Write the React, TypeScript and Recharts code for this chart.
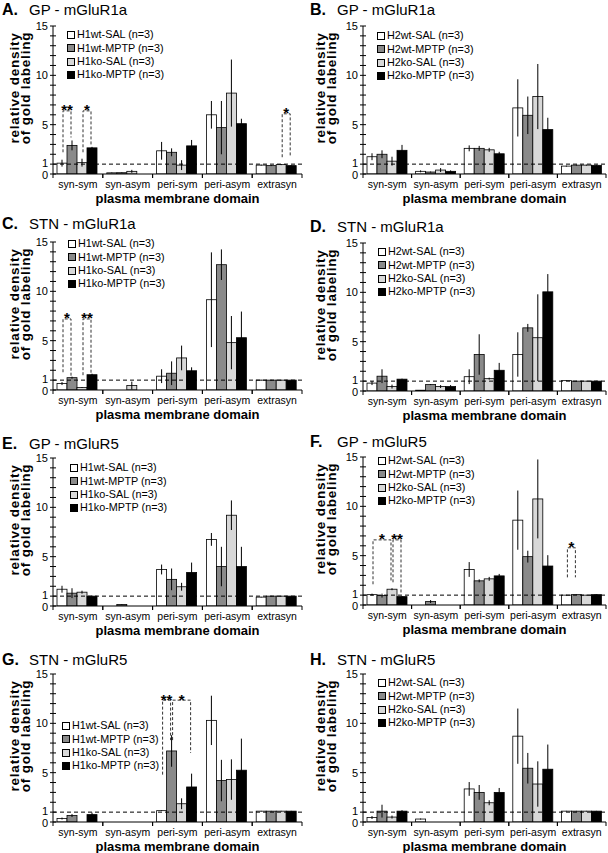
import React from 'react';
import { Bar, BarChart, ErrorBar, Legend, ReferenceLine, XAxis, YAxis } from 'recharts';

const CATEGORIES = ['syn-sym', 'syn-asym', 'peri-sym', 'peri-asym', 'extrasyn'];
const H1_SERIES = ['H1wt-SAL (n=3)', 'H1wt-MPTP (n=3)', 'H1ko-SAL (n=3)', 'H1ko-MPTP (n=3)'];
const H2_SERIES = ['H2wt-SAL (n=3)', 'H2wt-MPTP (n=3)', 'H2ko-SAL (n=3)', 'H2ko-MPTP (n=3)'];
const Y_TICKS = [0, 1, 2, 3, 4, 5, 6, 7, 8, 9, 10, 11, 12, 13, 14, 15];
const Y_TICK_LABELS = [0, 1, 5, 10, 15];
const FILLS = ['#ffffff', '#8a8a8a', '#d8d8d8', '#000000'];

// rows = series (wt-SAL, wt-MPTP, ko-SAL, ko-MPTP), columns = membrane domain
const A_MEAN = [
  [1.1, 0.12, 2.35, 6.0, 0.9],
  [2.9, 0.13, 2.2, 4.7, 0.85],
  [1.15, 0.27, 0.9, 8.2, 0.95],
  [2.65, 0, 2.85, 5.1, 0.85],
];
const A_SEM = [
  [0.35, 0.03, 0.9, 1.4, 0.05],
  [0.5, 0.03, 0.4, 2.7, 0.05],
  [0.4, 0.15, 0.5, 3.4, 0.05],
  [0.1, 0, 0.6, 0.5, 0.05],
];
// significance brackets: category, bar a -> bar b, bracket height, leg bottoms
const A_SIG = [
  { cat: 0, a: 0, b: 1, top: 6.4, lo: [2.2, 3.7], mark: '**' },
  { cat: 0, a: 2, b: 3, top: 6.4, lo: [2.2, 2.9], mark: '*' },
  { cat: 4, a: 2, b: 3, top: 6.1, lo: [1.7, 1.7], mark: '*' },
];

const B_MEAN = [
  [1.75, 0.27, 2.6, 6.7, 0.8],
  [2.0, 0.2, 2.6, 5.95, 0.9],
  [1.3, 0.4, 2.45, 7.85, 0.9],
  [2.4, 0.27, 2.05, 4.5, 0.88],
];
const B_SEM = [
  [0.35, 0.1, 0.3, 2.9, 0.05],
  [0.4, 0.05, 0.25, 1.9, 0.05],
  [0.45, 0.2, 0.2, 3.3, 0.05],
  [0.55, 0.1, 0.2, 1.2, 0.05],
];

const C_MEAN = [
  [0.65, 0, 1.4, 9.15, 1.0],
  [1.25, 0, 1.7, 12.7, 1.0],
  [0.25, 0.45, 3.25, 4.8, 1.0],
  [1.55, 0, 1.95, 5.3, 1.0],
];
const C_SEM = [
  [0.15, 0, 0.7, 4.8, 0.03],
  [0.1, 0, 1.2, 1.55, 0.03],
  [0.05, 0.4, 1.25, 2.7, 0.03],
  [0.1, 0, 0.35, 2.65, 0.03],
];
const C_SIG = [
  { cat: 0, a: 0, b: 1, top: 7.2, lo: [1.8, 1.4], mark: '*' },
  { cat: 0, a: 2, b: 3, top: 7.2, lo: [1.5, 1.7], mark: '**' },
];

const D_MEAN = [
  [0.8, 0.08, 1.45, 3.7, 1.05],
  [1.5, 0.65, 3.7, 6.4, 1.0],
  [0.45, 0.45, 1.25, 5.4, 1.0],
  [1.2, 0.45, 2.1, 10.05, 1.0],
];
const D_SEM = [
  [0.2, 0, 0.75, 2.25, 0.03],
  [0.7, 0.05, 2.05, 0.4, 0.03],
  [0.2, 0.15, 0.1, 4.4, 0.03],
  [0.05, 0.15, 0.75, 1.8, 0.03],
];

const E_MEAN = [
  [1.7, 0, 3.7, 6.75, 0.9],
  [1.3, 0.15, 2.7, 4.0, 1.0],
  [1.4, 0, 1.95, 9.2, 1.0],
  [1.0, 0, 3.4, 4.0, 1.0],
];
const E_SEM = [
  [0.35, 0, 0.5, 0.65, 0.03],
  [0.5, 0.03, 1.1, 2.0, 0.03],
  [0.15, 0, 0.4, 1.5, 0.03],
  [0.05, 0, 1.0, 2.0, 0.03],
];

const F_MEAN = [
  [1.05, 0, 3.6, 8.6, 1.0],
  [0.95, 0.35, 2.45, 4.9, 1.05],
  [1.6, 0, 2.65, 10.75, 1.0],
  [0.85, 0, 2.95, 3.95, 1.05],
];
const F_SEM = [
  [0.1, 0, 0.75, 3.0, 0.03],
  [0.2, 0.15, 0.15, 0.6, 0.03],
  [0.1, 0, 0.2, 4.0, 0.03],
  [0.05, 0, 0.2, 1.1, 0.03],
];
const F_SIG = [
  { cat: 0, a: 0, b: 2, top: 6.6, lo: [2.1, 2.3], mark: '*' },
  { cat: 0, a: 2, b: 3, top: 6.6, lo: [2.3, 1.2], mark: '**' },
  { cat: 4, a: 0, b: 1, top: 5.8, lo: [2.8, 2.8], mark: '*' },
];

const G_MEAN = [
  [0.35, 0, 1.15, 10.3, 1.1],
  [0.65, 0, 7.2, 4.2, 1.1],
  [0, 0, 1.85, 4.3, 1.1],
  [0.75, 0, 3.55, 5.25, 1.1],
];
const G_SEM = [
  [0.1, 0, 0.03, 2.5, 0.03],
  [0.15, 0, 1.6, 2.1, 0.03],
  [0, 0, 0.55, 2.05, 0.03],
  [0.2, 0, 1.35, 3.2, 0.03],
];
const G_SIG = [
  { cat: 2, a: 0, b: 1, top: 12.35, lo: [4.8, 8.3], mark: '**' },
  { cat: 2, a: 1, b: 3, top: 12.35, lo: [8.3, 7.0], mark: '*' },
];

const H_MEAN = [
  [0.45, 0.3, 3.35, 8.7, 1.1],
  [1.1, 0, 3.0, 5.45, 1.1],
  [0.5, 0, 1.95, 3.85, 1.1],
  [1.1, 0, 3.0, 5.35, 1.1],
];
const H_SEM = [
  [0.15, 0.05, 0.7, 2.8, 0.03],
  [0.65, 0, 0.75, 1.55, 0.03],
  [0.15, 0, 0.25, 2.3, 0.03],
  [0.1, 0, 0.45, 2.5, 0.03],
];

const PANELS = [
  { letter: 'A.', title: 'GP - mGluR1a', series: H1_SERIES, mean: A_MEAN, sem: A_SEM, sig: A_SIG, col: 0, plotTop: 26, titleBase: 15, legendX: 67, legendY: 35 },
  { letter: 'B.', title: 'GP - mGluR1a', series: H2_SERIES, mean: B_MEAN, sem: B_SEM, sig: [], col: 1, plotTop: 26, titleBase: 15, legendX: 377, legendY: 36 },
  { letter: 'C.', title: 'STN - mGluR1a', series: H1_SERIES, mean: C_MEAN, sem: C_SEM, sig: C_SIG, col: 0, plotTop: 242, titleBase: 229, legendX: 68, legendY: 244 },
  { letter: 'D.', title: 'STN - mGluR1a', series: H2_SERIES, mean: D_MEAN, sem: D_SEM, sig: [], col: 1, plotTop: 243, titleBase: 232, legendX: 378, legendY: 252 },
  { letter: 'E.', title: 'GP - mGluR5', series: H1_SERIES, mean: E_MEAN, sem: E_SEM, sig: [], col: 0, plotTop: 458, titleBase: 449, legendX: 70, legendY: 468 },
  { letter: 'F.', title: 'GP - mGluR5', series: H2_SERIES, mean: F_MEAN, sem: F_SEM, sig: F_SIG, col: 1, plotTop: 457, titleBase: 447, legendX: 378, legendY: 461 },
  { letter: 'G.', title: 'STN - mGluR5', series: H1_SERIES, mean: G_MEAN, sem: G_SEM, sig: G_SIG, col: 0, plotTop: 674, titleBase: 665, legendX: 62, legendY: 726 },
  { letter: 'H.', title: 'STN - mGluR5', series: H2_SERIES, mean: H_MEAN, sem: H_SEM, sig: [], col: 1, plotTop: 674, titleBase: 665, legendX: 378, legendY: 683 },
];

const FONT = '"Liberation Sans", Arial, Helvetica, sans-serif';
const W = 304;
const PLOT_H = 148;
const TOP_PAD = 10;
const X_AXIS_H = 40;
const CHART_H = TOP_PAD + PLOT_H + X_AXIS_H;
const CAT_GAP = 4;
const ROW_H = 13.3;

const renderLegend = (props: any) => {
  const items = [...(props.payload || [])].sort((a: any, b: any) => String(a.dataKey).localeCompare(String(b.dataKey)));
  return (
    <div style={{ fontSize: 10.8, lineHeight: `${ROW_H}px`, whiteSpace: 'nowrap', color: '#000' }}>
      {items.map((e: any) => (
        <div key={e.value} style={{ display: 'flex', alignItems: 'center', height: ROW_H }}>
          <span style={{ display: 'inline-block', width: 6, height: 6, border: '1px solid #000', background: e.color, marginRight: 2 }} />
          <span>{e.value}</span>
        </div>
      ))}
    </div>
  );
};

const YTick = ({ x, y, payload }: any) => {
  // the 1 and 0 labels sit very close; nudge them apart a little
  const nudge = payload.value === 1 ? -1 : payload.value === 0 ? 1.5 : 0;
  return (
    <g>
      <line x1={x - 3} x2={x + 3} y1={y} y2={y} stroke="#000" />
      {Y_TICK_LABELS.includes(payload.value) && (
        <text x={x - 5} y={y + nudge} dy="0.36em" textAnchor="end" fontSize={11} fill="#000">
          {payload.value}
        </text>
      )}
    </g>
  );
};

const Panel = ({ p }: any) => {
  const axisW = p.col === 0 ? 53 : 59;
  const plotW = W - axisW - 2;
  const band = plotW / CATEGORIES.length;

  const rows = CATEGORIES.map((cat, i) => {
    const r: any = { cat };
    p.mean.forEach((s: number[], k: number) => {
      r['v' + k] = s[i];
      r['e' + k] = p.sem[k][i];
    });
    return r;
  });

  // bar rectangle plus any significance bracket that starts on this bar
  const makeShape = (k: number) => (props: any) => {
    const { x, y, width, height, payload } = props;
    const v = payload['v' + k];
    const base = y + height;
    const ppu = v > 0 ? height / v : PLOT_H / 15;
    const cat = CATEGORIES.indexOf(payload.cat);
    const sigs = p.sig.filter((s: any) => s.cat === cat && s.a === k);
    return (
      <g>
        {height > 0 && (
          <rect x={x} y={y} width={width} height={height} fill={FILLS[k]} stroke="#000" strokeWidth={0.8} />
        )}
        {sigs.map((s: any, i: number) => {
          const xa = x + width / 2 + 1;
          const xb = x + (s.b - s.a) * width + width / 2 - 1;
          const yt = base - s.top * ppu;
          const y0 = base - s.lo[0] * ppu;
          const y1 = base - s.lo[1] * ppu;
          return (
            <g key={i}>
              <path
                d={`M${xa},${y0}V${yt}H${xb}V${y1}`}
                fill="none"
                stroke="#333"
                strokeWidth={1}
                strokeDasharray="3 2"
              />
              <text x={(xa + xb) / 2} y={yt + 4.5} textAnchor="middle" fontSize={15} fontWeight="bold" fill="#000">
                {s.mark}
              </text>
            </g>
          );
        })}
      </g>
    );
  };

  const xTick = ({ x, y, payload }: any) => (
    <g>
      <line x1={x - band / 2} x2={x - band / 2} y1={y} y2={y + 4} stroke="#000" />
      <line x1={x + band / 2} x2={x + band / 2} y1={y} y2={y + 4} stroke="#000" />
      <text x={x} y={y + 14} textAnchor="middle" fontSize={10.5} fill="#000">
        {payload.value}
      </text>
    </g>
  );

  const yTitle = (props: any) => {
    const vb = props.viewBox || { x: 0, y: TOP_PAD };
    const x1 = vb.x + (p.col === 0 ? 14 : 16);
    const cy = vb.y + 62;
    return (
      <g fontSize={13.5} fontWeight="bold" fill="#000" letterSpacing={0.8}>
        <text x={x1} y={cy} transform={`rotate(-90 ${x1} ${cy})`} textAnchor="middle" dominantBaseline="central">
          relative density
        </text>
        <text x={x1 + 11} y={cy} transform={`rotate(-90 ${x1 + 11} ${cy})`} textAnchor="middle" dominantBaseline="central">
          of gold labeling
        </text>
      </g>
    );
  };

  const xTitle = (props: any) => {
    const vb = props.viewBox || { x: axisW, y: TOP_PAD + PLOT_H, width: plotW };
    return (
      <text x={vb.x + vb.width / 2} y={vb.y + 29} textAnchor="middle" fontSize={13} fontWeight="bold" fill="#000">
        plasma membrane domain
      </text>
    );
  };

  const chartTop = p.plotTop - TOP_PAD;

  return (
    <div style={{ position: 'absolute', left: p.col * W, top: chartTop, width: W, height: CHART_H }}>
      <BarChart
        width={W}
        height={CHART_H}
        data={rows}
        margin={{ top: TOP_PAD, right: 2, bottom: 0, left: 0 }}
        barCategoryGap={CAT_GAP}
        barGap={0}
      >
        <XAxis
          dataKey="cat"
          interval={0}
          tickSize={0}
          tickMargin={0}
          tickLine={false}
          tick={xTick}
          axisLine={{ stroke: '#000' }}
          height={X_AXIS_H}
          label={{ content: xTitle }}
        />
        <YAxis
          domain={[0, 15]}
          ticks={Y_TICKS}
          interval={0}
          allowDataOverflow
          tickSize={0}
          tickMargin={0}
          tickLine={false}
          tick={YTick}
          axisLine={{ stroke: '#000' }}
          width={axisW}
          label={{ content: yTitle }}
        />
        <ReferenceLine y={1} stroke="#000" strokeDasharray="4 3" />
        {[0, 1, 2, 3].map((k) => (
          <Bar
            key={k}
            dataKey={'v' + k}
            name={p.series[k]}
            fill={FILLS[k]}
            stroke="#000"
            strokeWidth={0.8}
            shape={makeShape(k)}
            isAnimationActive={false}
          >
            <ErrorBar dataKey={'e' + k} width={0} stroke="#000" strokeWidth={1} direction="y" isAnimationActive={false} />
          </Bar>
        ))}
        <Legend
          layout="vertical"
          align="center"
          verticalAlign="middle"
          wrapperStyle={{ top: p.legendY - ROW_H / 2 - chartTop, left: p.legendX - p.col * W }}
          content={renderLegend}
        />
      </BarChart>
    </div>
  );
};

export default function App() {
  return (
    <div style={{ position: 'relative', width: 608, height: 853, background: '#fff', fontFamily: FONT, color: '#000' }}>
      <style>{'body{margin:0}'}</style>
      {PANELS.map((p) => (
        <div
          key={p.letter}
          style={{
            position: 'absolute',
            left: p.col === 0 ? 2 : 310,
            top: p.titleBase - 12.7,
            fontSize: 15,
            lineHeight: '15px',
            whiteSpace: 'nowrap',
          }}
        >
          <b style={{ display: 'inline-block', width: 27, fontSize: 16 }}>{p.letter}</b>
          {p.title}
        </div>
      ))}
      {PANELS.map((p) => (
        <Panel key={'c' + p.letter} p={p} />
      ))}
    </div>
  );
}
